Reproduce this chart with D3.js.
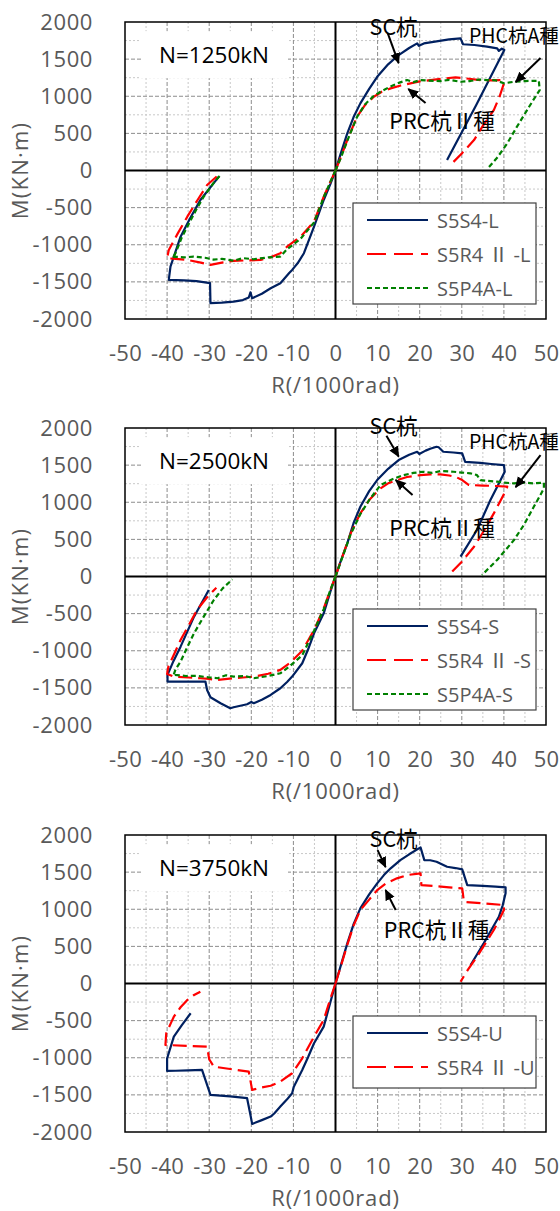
<!DOCTYPE html>
<html><head><meta charset="utf-8">
<script src="https://cdn.jsdelivr.net/npm/d3@7"></script>
<style>body{margin:0;background:#fff} svg{display:block}</style>
</head><body>
<svg id="chart" width="560" height="1211"></svg>
<script>
// ---------- data ----------
const xTicks = [-50,-40,-30,-20,-10,0,10,20,30,40,50];
const yTicks = [-2000,-1500,-1000,-500,0,500,1000,1500,2000];
const panelLabels = ["N=1250kN","N=2500kN","N=3750kN"];
const xTitle = "R(/1000rad)";
const yTitle = "M(KN·m)";
const namesL = ["S5S4-L","S5R4 Ⅱ -L","S5P4A-L"];
const namesS = ["S5S4-S","S5R4 Ⅱ -S","S5P4A-S"];
const namesU = ["S5S4-U","S5R4 Ⅱ -U"];
const annTexts = {sc:"SC杭", phc:"PHC杭A種", prc:"PRC杭Ⅱ種"};

// N=1250kN
const scL_pos = [[0,0],[1.2,220],[2.8,500],[4.3,720],[5.9,904],[8,1100],[9.9,1262],[12.5,1430],[15,1555],[17.5,1650],[19.4,1712],[19.8,1680],[21,1712],[24,1740],[27,1765],[29.7,1780],[30.3,1700],[33,1690],[36,1668],[38.4,1645],[38.8,1610],[39.5,1640],[40.1,1622],[33.4,880],[26.5,141]];
const scL_neg = [[0,0],[-1.2,-180],[-2.8,-397],[-5.1,-756],[-7.5,-1114],[-9,-1250],[-10.3,-1339],[-11,-1380],[-13.1,-1518],[-15.4,-1586],[-17.5,-1660],[-19.8,-1720],[-20.2,-1640],[-20.6,-1710],[-22,-1745],[-24.2,-1765],[-27,-1780],[-29.7,-1787],[-29.8,-1518],[-33,-1490],[-36,-1480],[-39.6,-1474],[-39.2,-1295],[-36.8,-891],[-34.5,-640],[-32.1,-397],[-27.7,-83]];
const rcL_pos = [[0,0],[1.2,170],[2.8,410],[5.1,724],[7,880],[9.1,993],[11,1060],[13.1,1106],[15.5,1145],[17.8,1174],[20,1200],[22.6,1218],[25,1235],[28.5,1254],[31,1240],[34.4,1218],[37,1215],[39.6,1218],[40,1174],[39,1000],[37.6,814],[35,600],[32.9,410],[30,230],[27.3,74]];
const rcL_neg = [[0,0],[-1.2,-150],[-2.8,-352],[-5.1,-689],[-8.3,-891],[-11.5,-1025],[-13.1,-1114],[-15.5,-1170],[-17.8,-1205],[-21,-1210],[-24.2,-1218],[-27,-1240],[-29.7,-1272],[-32,-1240],[-35.2,-1205],[-38,-1190],[-40,-1182],[-39.6,-1070],[-37.5,-850],[-35.2,-622],[-32.8,-400],[-30.5,-195],[-27.6,-50]];
const phL_pos = [[0,0],[1.2,160],[2.8,400],[5.1,720],[7,890],[9,1000],[10.7,1060],[13,1130],[15,1180],[17,1218],[18.5,1190],[20.2,1218],[22,1210],[24.9,1204],[27,1220],[29.7,1195],[32,1205],[34,1225],[36,1218],[38,1215],[40,1174],[42.4,1195],[45,1205],[48.3,1209],[48.5,1083],[47,950],[45.5,814],[43,580],[40.8,366],[38.5,180],[36,16]];
const phL_neg = [[0,0],[-1.2,-150],[-2.8,-360],[-5.1,-700],[-8.3,-920],[-11.5,-1060],[-13.1,-1160],[-16,-1170],[-19.4,-1195],[-22,-1180],[-24.2,-1215],[-27,-1190],[-29,-1200],[-31,-1175],[-33.7,-1160],[-36,-1170],[-38.4,-1160],[-38.7,-1180],[-38,-1114],[-36.5,-900],[-35.2,-756],[-33,-520],[-31.3,-352],[-29,-170],[-27.3,-60]];

// N=2500kN
const scS_pos = [[0,0],[1.2,200],[2.8,447],[4.3,720],[5.9,939],[8,1150],[9.9,1299],[12.5,1450],[15,1568],[17.5,1640],[19.4,1680],[19.9,1650],[21.4,1695],[22.5,1720],[24,1747],[24.5,1740],[25.6,1680],[28,1670],[30.1,1658],[30.8,1545],[34.4,1530],[37,1515],[40,1500],[40.2,1410],[38.5,1220],[36.8,1030],[33.6,626],[29.7,267]];
const scS_neg = [[0,0],[-1.2,-200],[-2.8,-496],[-5.1,-765],[-6.5,-980],[-7.9,-1168],[-10.3,-1348],[-11.5,-1420],[-13.1,-1505],[-15.4,-1595],[-17.5,-1660],[-19.4,-1707],[-20,-1690],[-21,-1720],[-24.2,-1761],[-25,-1775],[-27.3,-1707],[-29.7,-1626],[-30.5,-1528],[-30.9,-1415],[-35,-1415],[-39.9,-1415],[-39.9,-1325],[-38.5,-1140],[-36.8,-945],[-33.6,-541],[-30.1,-182]];
const rcS_pos = [[0,0],[1.2,200],[3.6,581],[5.9,850],[8,1030],[10.7,1187],[12.5,1255],[14.6,1299],[17,1340],[20.2,1366],[22.5,1375],[24.9,1375],[27,1360],[28.5,1343],[30.1,1299],[31.7,1232],[35,1225],[38,1219],[40.8,1210],[40.5,1165],[39,1000],[37.6,850],[35.3,620],[32.9,401],[30,200],[27.3,43]];
const rcS_neg = [[0,0],[-1.2,-180],[-2.8,-430],[-5.1,-720],[-7.9,-1000],[-10.7,-1157],[-13.1,-1258],[-16,-1310],[-19.4,-1348],[-22,-1360],[-24.2,-1370],[-28.1,-1393],[-30,-1380],[-32.1,-1370],[-35,-1360],[-38.4,-1348],[-40,-1312],[-39.7,-1214],[-38.2,-1030],[-36.8,-855],[-34.8,-650],[-32.9,-451],[-30.5,-280],[-28.3,-150]];
const phS_pos = [[0,0],[1.2,190],[3.6,570],[5.9,840],[8,1030],[10.7,1232],[13.5,1310],[16.2,1366],[18.5,1395],[20.9,1411],[23,1395],[25,1420],[28,1411],[30,1400],[32,1390],[33.6,1366],[34.4,1299],[36,1290],[38.4,1277],[40,1265],[42.4,1254],[45,1265],[47,1255],[49.5,1263],[49.5,1187],[48.5,1080],[47.1,939],[44.8,700],[42.4,491],[38.5,230],[34.8,20]];
const phS_neg = [[0,0],[-1.2,-180],[-2.8,-440],[-5.1,-730],[-7.9,-1060],[-10.7,-1200],[-13.1,-1303],[-16,-1340],[-19.4,-1370],[-21.5,-1340],[-24.2,-1348],[-26,-1330],[-28,-1370],[-30,-1360],[-33,-1338],[-35.5,-1340],[-38.2,-1325],[-38.5,-1335],[-38,-1250],[-36.8,-1146],[-35.2,-950],[-33.6,-765],[-31.2,-530],[-28.9,-316],[-26.8,-160],[-24.5,-38]];

// N=3750kN
const scU_pos = [[0,0],[1.2,230],[2.8,541],[4.3,800],[5.9,1012],[8,1200],[9.9,1349],[11.5,1460],[13.1,1551],[15.4,1662],[17.5,1740],[20.2,1833],[21.1,1662],[22.5,1660],[24,1640],[26.5,1572],[28.5,1555],[30.1,1537],[31.3,1326],[35,1315],[38,1305],[40.4,1295],[40.4,1214],[39.7,1050],[38.8,899],[37,720],[35.2,541],[33.6,390],[32.1,249]];
const scU_neg = [[0,0],[-1.2,-250],[-2.8,-581],[-5.1,-805],[-6.5,-990],[-7.9,-1164],[-9.9,-1389],[-10.3,-1478],[-11.5,-1560],[-13.1,-1658],[-14.5,-1747],[-15.4,-1792],[-17.5,-1840],[-19.8,-1891],[-20.2,-1770],[-21,-1545],[-25,-1520],[-29.7,-1500],[-31.7,-1164],[-35,-1170],[-38,-1175],[-40,-1178],[-40,-1010],[-38.4,-716],[-36.5,-560],[-34.4,-401]];
const rcU_pos = [[0,0],[1.2,220],[2.8,520],[4.3,780],[5.9,990],[8,1130],[9.9,1258],[12,1350],[14.6,1416],[17,1460],[20.2,1484],[20.4,1326],[24,1310],[27,1295],[30.1,1281],[30.5,1100],[35,1080],[40,1057],[40,990],[38.8,850],[37.6,720],[35.5,530],[33.6,361],[31.5,190],[29.7,24]];
const rcU_neg = [[0,0],[-1.2,-200],[-2.8,-491],[-5.1,-716],[-7.9,-1007],[-10.3,-1209],[-13.1,-1321],[-15.4,-1377],[-17.5,-1400],[-19.8,-1433],[-20.6,-1187],[-24,-1160],[-28.9,-1120],[-30,-1020],[-30.5,-851],[-35,-840],[-40.4,-828],[-40.2,-669],[-39,-520],[-38.4,-447],[-36.8,-320],[-35.2,-222],[-33.6,-155],[-32.1,-110]];

// annotation anchors (data coordinates)
const annot1 = {sc:[13.8,1958], phc:[31.7,1837], prc:[25.3,693],
  arrows:[[[12.4,1851],[15.0,1447]],[[48.7,1514],[42.8,1191]],[[21.4,908],[17.3,1097]]]};
const annot2 = {sc:[13.8,2046], phc:[31.7,1837], prc:[25.3,680],
  arrows:[[[12.1,1897],[15.0,1615]],[[48.7,1635],[42.8,1205]],[[18.3,1097],[14.3,1299]]]};
const annot3 = {sc:[13.8,1972], phc:null, prc:[24,747],
  arrows:[[[10.0,1797],[11.9,1568]],[[14.3,989],[11.9,1258]]]};

// ---------- layout / style ----------
const styles = [
  {color:"#002060", dash:null},
  {color:"#FF0000", dash:"14,6"},
  {color:"#008000", dash:"5,3"}
];
const panels = [
  {top:22, label:panelLabels[0], names:namesL, series:[[scL_pos,scL_neg],[rcL_pos,rcL_neg],[phL_pos,phL_neg]], annot:annot1},
  {top:428, label:panelLabels[1], names:namesS, series:[[scS_pos,scS_neg],[rcS_pos,rcS_neg],[phS_pos,phS_neg]], annot:annot2},
  {top:835, label:panelLabels[2], names:namesU, series:[[scU_pos,scU_neg],[rcU_pos,rcU_neg]], annot:annot3}
];
const PH = 297, XL = 125, XR = 546;
const tickFont = "'Open Sans', 'Noto Sans CJK JP', sans-serif";
const cjkFont = "'Noto Sans CJK JP', 'Noto Sans', sans-serif";

const svg = d3.select("#chart");
const defs = svg.append("defs");
defs.append("marker").attr("id","arr").attr("viewBox","0 -5 10 10")
  .attr("refX",9).attr("refY",0).attr("markerUnits","userSpaceOnUse")
  .attr("markerWidth",11).attr("markerHeight",11).attr("orient","auto")
  .append("path").attr("d","M0,-4.5L10,0L0,4.5Z").attr("fill","#000");

panels.forEach(p => {
  const top = p.top, bottom = top + PH;
  const x = d3.scaleLinear().domain([-50,50]).range([XL,XR]);
  const y = d3.scaleLinear().domain([-2000,2000]).range([bottom,top]);
  const g = svg.append("g");

  // grid
  const minorX = d3.range(-45,50,10), minorY = d3.range(-1750,2000,500);
  const majorX = [-40,-30,-20,-10,10,20,30,40], majorY = [-1500,-1000,-500,500,1000,1500];
  g.selectAll(".mx").data(minorX).join("line")
    .attr("x1",d=>x(d)).attr("x2",d=>x(d)).attr("y1",top).attr("y2",bottom)
    .attr("stroke","#c8c8c8").attr("stroke-width",1).attr("stroke-dasharray","2,2");
  g.selectAll(".my").data(minorY).join("line")
    .attr("x1",XL).attr("x2",XR).attr("y1",d=>y(d)).attr("y2",d=>y(d))
    .attr("stroke","#c8c8c8").attr("stroke-width",1).attr("stroke-dasharray","2,2");
  g.selectAll(".Mx").data(majorX).join("line")
    .attr("x1",d=>x(d)).attr("x2",d=>x(d)).attr("y1",top).attr("y2",bottom)
    .attr("stroke","#8c8c8c").attr("stroke-width",1).attr("stroke-dasharray","4,2");
  g.selectAll(".My").data(majorY).join("line")
    .attr("x1",XL).attr("x2",XR).attr("y1",d=>y(d)).attr("y2",d=>y(d))
    .attr("stroke","#8c8c8c").attr("stroke-width",1).attr("stroke-dasharray","4,2");

  // white box behind panel label
  g.append("rect").attr("x",141).attr("y",y(1850)-2).attr("width",147).attr("height",47).attr("fill","#fff");
  // zero axes
  g.append("line").attr("x1",x(0)).attr("x2",x(0)).attr("y1",top).attr("y2",bottom).attr("stroke","#000").attr("stroke-width",2);
  g.append("line").attr("x1",XL).attr("x2",XR).attr("y1",y(0)).attr("y2",y(0)).attr("stroke","#000").attr("stroke-width",2);
  // border
  g.append("rect").attr("x",XL).attr("y",top).attr("width",XR-XL).attr("height",PH)
    .attr("fill","none").attr("stroke","#000").attr("stroke-width",1.5);

  // axes labels
  const ya = g.append("g").attr("transform",`translate(${XL},0)`)
    .call(d3.axisLeft(y).tickValues(yTicks).tickFormat(d => String(d)).tickSize(0).tickPadding(32));
  ya.select(".domain").remove();
  ya.selectAll("text").attr("font-family",tickFont).attr("font-size",22).attr("letter-spacing",0.6).attr("fill","#595959");
  const xa = g.append("g").attr("transform",`translate(0,${bottom})`)
    .call(d3.axisBottom(x).tickValues(xTicks).tickFormat(d => String(d)).tickSize(0).tickPadding(26));
  xa.select(".domain").remove();
  xa.selectAll("text").attr("font-family",tickFont).attr("font-size",22).attr("letter-spacing",0.3).attr("fill","#595959");

  g.append("text").attr("transform",`translate(28,${y(0)}) rotate(-90)`).attr("text-anchor","middle")
    .attr("font-family",tickFont).attr("font-size",22).attr("letter-spacing",1.2).attr("fill","#595959").text(yTitle);
  g.append("text").attr("x",x(0)).attr("y",bottom+74).attr("text-anchor","middle")
    .attr("font-family",tickFont).attr("font-size",22).attr("letter-spacing",0.8).attr("fill","#595959").text(xTitle);

  // panel label
  g.append("text").attr("x",159).attr("y",y(1850)+21.5).attr("dominant-baseline","central")
    .attr("font-family",tickFont).attr("font-size",22.5).attr("fill","#000").text(p.label);

  // series
  const line = d3.line().x(d=>x(d[0])).y(d=>y(d[1]));
  p.series.forEach((segs,i) => {
    segs.forEach(seg => {
      g.append("path").datum(seg).attr("d",line).attr("fill","none")
        .attr("stroke",styles[i].color).attr("stroke-width",2.2)
        .attr("stroke-linejoin","round")
        .attr("stroke-dasharray",styles[i].dash);
    });
  });

  // annotations
  const a = p.annot;
  a.arrows.forEach(ar => {
    g.append("line").attr("x1",x(ar[0][0])).attr("y1",y(ar[0][1])).attr("x2",x(ar[1][0])).attr("y2",y(ar[1][1]))
      .attr("stroke","#000").attr("stroke-width",2).attr("marker-end","url(#arr)");
  });
  g.append("text").attr("x",x(a.sc[0])).attr("y",y(a.sc[1])).attr("text-anchor","middle").attr("dominant-baseline","central")
    .attr("font-family",cjkFont).attr("font-size",21.5).attr("fill","#000").text(annTexts.sc);
  if (a.phc) g.append("text").attr("x",x(a.phc[0])).attr("y",y(a.phc[1])).attr("dominant-baseline","central")
    .attr("font-family",cjkFont).attr("font-size",19.5).attr("fill","#000").text(annTexts.phc);
  g.append("text").attr("x",x(a.prc[0])).attr("y",y(a.prc[1])).attr("text-anchor","middle").attr("dominant-baseline","central")
    .attr("font-family",cjkFont).attr("font-size",21.5).attr("fill","#000").text(annTexts.prc);

  // legend
  const n = p.names.length;
  const lg = g.append("g");
  lg.append("rect").attr("x",353).attr("y",top+181).attr("width",183).attr("height",n===3?101:72)
    .attr("fill","#fff").attr("stroke","#404040").attr("stroke-width",1.2);
  p.names.forEach((nm,i) => {
    const ry = top + 198 + i*34;
    lg.append("line").attr("x1",367).attr("x2",428).attr("y1",ry).attr("y2",ry)
      .attr("stroke",styles[i].color).attr("stroke-width",2.2).attr("stroke-dasharray",i===1?"19,8":styles[i].dash);
    lg.append("text").attr("x",437).attr("y",ry).attr("dominant-baseline","central")
      .attr("font-family",tickFont).attr("font-size",20).attr("fill","#595959").text(nm);
  });
});
</script>
</body></html>
